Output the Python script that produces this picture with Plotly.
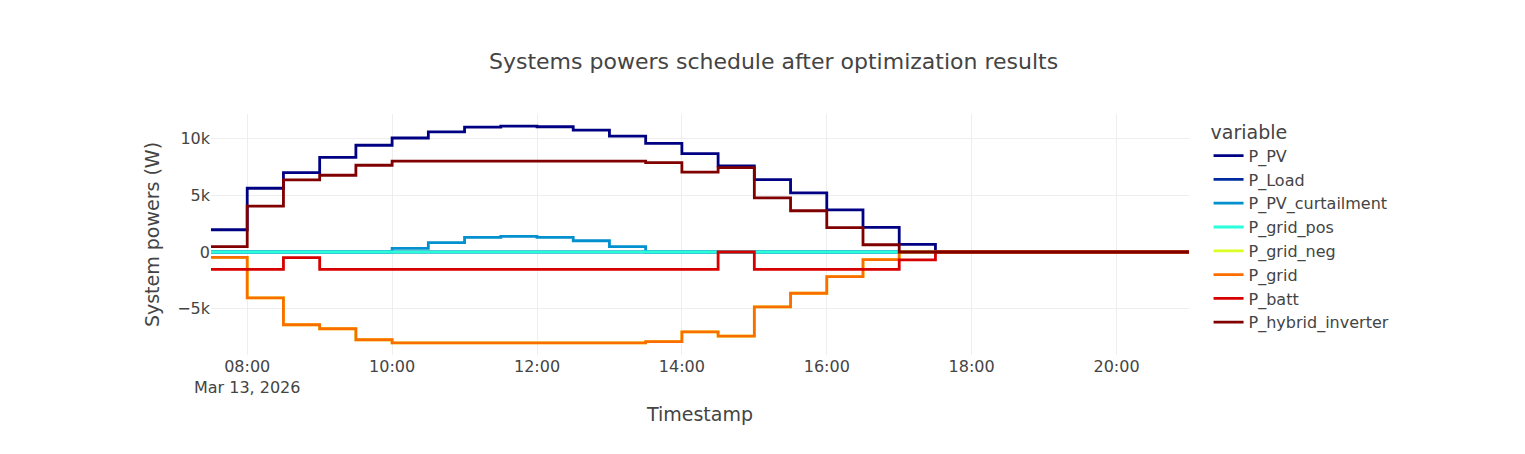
import pandas as pd
import plotly.express as px

# 30-minute schedule, 07:30 -> 21:00
timestamps = pd.date_range("2026-03-13 07:30", "2026-03-13 21:00", freq="30min")

zeros_tail = [0] * 8

P_PV = [1960, 5610, 6990, 8330, 9390, 10030, 10560, 10990, 11080, 11020,
        10730, 10200, 9560, 8650, 7570, 6370, 5200, 3710, 2160, 670] + zeros_tail
P_Load = [0] * 28
P_PV_curtailment = [0, 0, 0, 0, 0, 320, 820, 1290, 1370, 1290,
                    990, 470, 0, 0, 0, 0, 0, 0, 0, 0] + zeros_tail
P_grid_pos = [0] * 28
P_grid = [-470, -4030, -6400, -6750, -7720, -8000, -8000, -8000, -8000, -8000,
          -8000, -8000, -7890, -7020, -7400, -4820, -3630, -2160, -670, 0] + zeros_tail
P_grid_neg = list(P_grid)
P_batt = [-1520, -1520, -500, -1520, -1520, -1520, -1520, -1520, -1520, -1520,
          -1520, -1520, -1520, -1520, 0, -1520, -1520, -1520, -1520, -700] + zeros_tail
P_hybrid_inverter = [470, 4030, 6340, 6750, 7630, 8000, 8000, 8000, 8000, 8000,
                     8000, 8000, 7870, 7020, 7430, 4770, 3630, 2140, 640, 0] + zeros_tail

opt_res = pd.DataFrame({
    "P_PV": P_PV,
    "P_Load": P_Load,
    "P_PV_curtailment": P_PV_curtailment,
    "P_grid_pos": P_grid_pos,
    "P_grid_neg": P_grid_neg,
    "P_grid": P_grid,
    "P_batt": P_batt,
    "P_hybrid_inverter": P_hybrid_inverter,
}, index=pd.Index(timestamps, name="timestamp"))

cols = list(opt_res.columns)
colors = px.colors.sample_colorscale("jet", [i / (len(cols) - 1) for i in range(len(cols))])

fig = px.line(opt_res, y=cols, title="Systems powers schedule after optimization results",
              template="presentation", line_shape="hv", color_discrete_sequence=colors)
fig.update_traces(line_width=2.8)
fig.update_layout(xaxis_title="Timestamp", yaxis_title="System powers (W)",
                  width=1525, height=454,
                  font=dict(family="Verdana, DejaVu Sans", size=16),
                  title=dict(x=0.502, y=0.883, yanchor="middle"),
                  margin=dict(l=203, r=344, t=106, b=107))
fig.update_xaxes(title_standoff=11)
fig.update_yaxes(title_standoff=12)

fig.write_html("out.html")
